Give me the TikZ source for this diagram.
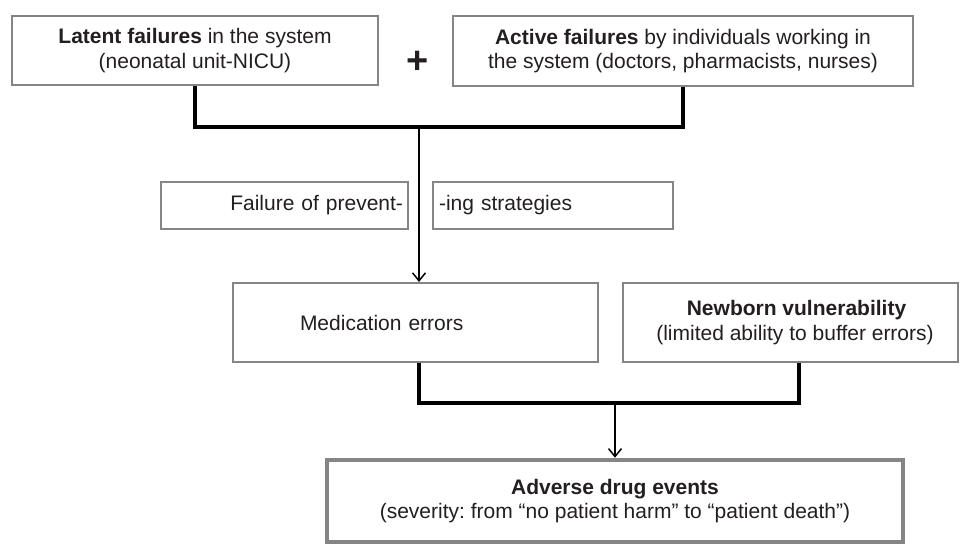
\documentclass[tikz,border=0pt]{standalone}
\usepackage{fontspec}
\setmainfont{Liberation Sans}
\frenchspacing
\usetikzlibrary{arrows.meta}
\definecolor{boxgray}{HTML}{858585}
\definecolor{txt}{HTML}{231F20}
\tikzset{
  box/.style={rectangle, draw=boxgray, line width=2pt, inner sep=0pt, text=txt,
    font=\fontsize{21}{24.5}\selectfont},
  bigbox/.style={box, line width=4.5pt},
  bracket/.style={line width=3.5pt, black, line join=miter},
  flow/.style={line width=1.5pt, black, -{Straight Barb[length=8pt,width=13pt,line width=1.5pt]}},
}
\begin{document}
\begin{tikzpicture}[x=1pt,y=-1pt]
\useasboundingbox[fill=white] (0,0) rectangle (960,546);
% top boxes
\node[box, minimum width=366pt, minimum height=69pt, align=center] (latent) at (195,50.5)
  {\textbf{Latent failures} in the system\\(neonatal unit-NICU)};
\node[box, minimum width=460pt, minimum height=70pt, align=center] (active) at (683,51)
  {\textbf{Active failures} by individuals working in\\the system (doctors, pharmacists, nurses)};
\node[text=txt, font=\fontsize{38}{38}\selectfont\bfseries, inner sep=0pt] (plus) at (418,62) {+};
% bracket 1
\coordinate (j1) at (419,127);
\draw[bracket] (latent.south) |- (j1) -| (active.south);
% prevent boxes
\node[box, minimum height=47pt, text width=237pt, inner xsep=5pt, align=right] (fail) at (284.5,205.5)
  {Failure of prevent-};
\node[box, minimum height=47pt, text width=228pt, inner xsep=6pt, align=left] (ing) at (553,205.5)
  {-ing strategies};
% middle boxes
\node[box, minimum height=79pt, text width=231pt, inner xsep=67pt, align=left] (med) at (415.5,322.5)
  {Medication errors};
\node[box, minimum width=335pt, minimum height=79pt, align=center] (newborn) at (790.5,322.5)
  {\hspace*{12pt}\textbf{Newborn vulnerability}\\\hspace*{9pt}(limited ability to buffer errors)};
\draw[flow] (j1) -- (j1 |- med.north);
% bracket 2
\coordinate (j2) at (615,403);
\draw[bracket] (j1 |- med.south) |- (j2) -| ([xshift=8.5pt]newborn.south);
% bottom
\node[bigbox, minimum width=576pt, minimum height=82pt, align=center] (adverse) at (615,501)
  {\textbf{Adverse drug events}\\(severity: from “no patient harm” to “patient death”)};
\draw[flow] (j2) -- (adverse.north);
\end{tikzpicture}
\end{document}
